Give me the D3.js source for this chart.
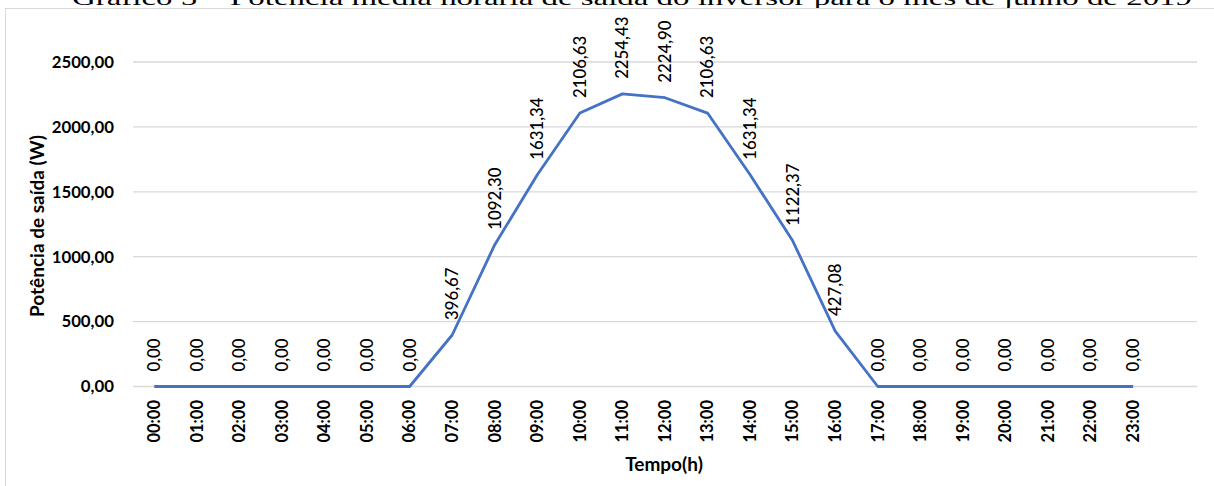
<!DOCTYPE html>
<html><head><meta charset="utf-8">
<script src="https://cdn.jsdelivr.net/npm/d3@7"></script>
<style>html,body{margin:0;padding:0;background:#fff;overflow:hidden}svg{display:block}</style>
</head><body>
<svg id="c" width="1214" height="486"></svg>
<script>
const hours = ["00:00","01:00","02:00","03:00","04:00","05:00","06:00","07:00","08:00","09:00","10:00","11:00","12:00","13:00","14:00","15:00","16:00","17:00","18:00","19:00","20:00","21:00","22:00","23:00"];
const power = [0,0,0,0,0,0,0,396.67,1092.30,1631.34,2106.63,2254.43,2224.90,2106.63,1631.34,1122.37,427.08,0,0,0,0,0,0,0];
const yTicks = [0,500,1000,1500,2000,2500];
const chartTitle = "Gráfico 5 – Potência média horária de saída do inversor para o mês de junho de 2019";
const xTitle = "Tempo(h)";
const yTitle = "Potência de saída (W)";

const loc = d3.formatLocale({decimal:",", thousands:".", grouping:[3], currency:["",""]});
const fmt = loc.format(".2f");
const FONT = "Lato, 'Open Sans', sans-serif";

const svg = d3.select("#c");
const L = 133, R = 1197, T = 62, B = 386.5;

// cut-off document caption above the chart frame
svg.append("text").attr("x", 72).attr("y", 5)
  .attr("font-family","'Liberation Serif','Times New Roman',serif").attr("font-size",22)
  .attr("textLength",1120).attr("lengthAdjust","spacingAndGlyphs")
  .attr("fill","#000").text(chartTitle);

// frame
svg.append("rect").attr("x",5.5).attr("y",8.5).attr("width",1230).attr("height",500)
  .attr("fill","#fff").attr("stroke","#d9d9d9").attr("stroke-width",1);

const x = d3.scaleBand().domain(d3.range(hours.length + 1)).range([L, R]);
const xc = i => x(i) + x.bandwidth()/2;
const y = d3.scaleLinear().domain([0, 2500]).range([B, T]);

// gridlines
svg.append("g").selectAll("line").data(yTicks).join("line")
  .attr("x1", L).attr("x2", R).attr("y1", d => y(d)).attr("y2", d => y(d))
  .attr("stroke","#d9d9d9").attr("stroke-width",1.3);

// y tick labels
svg.append("g").selectAll("text").data(yTicks).join("text")
  .attr("x", 114).attr("y", d => y(d)).attr("dy","0.35em")
  .attr("text-anchor","end").attr("font-family",FONT).attr("font-weight","bold")
  .attr("font-size",16.8).attr("fill","#000").text(d => fmt(d));

// x tick labels
svg.append("g").selectAll("text").data(hours).join("text")
  .attr("transform", (d,i) => `translate(${xc(i)},400) rotate(-90)`)
  .attr("dy","0.35em").attr("text-anchor","end")
  .attr("font-family",FONT).attr("font-weight","bold").attr("font-size",16.5)
  .attr("fill","#000").text(d => d);

// line
const line = d3.line().x((d,i) => xc(i)).y(d => y(d));
svg.append("path").datum(power).attr("d", line)
  .attr("fill","none").attr("stroke","#4472C4").attr("stroke-width",2.8)
  .attr("stroke-linejoin","round");

// data labels
svg.append("g").selectAll("text").data(power).join("text")
  .attr("transform", (d,i) => `translate(${xc(i)},${y(d) - 15}) rotate(-90)`)
  .attr("dy","0.35em").attr("text-anchor","start")
  .attr("font-family",FONT).attr("font-weight",500).attr("font-size",16.8).attr("fill","#000")
  .text(d => fmt(d));

// axis titles
svg.append("text").attr("x", 664).attr("y", 464).attr("dy","0.35em")
  .attr("text-anchor","middle").attr("font-family",FONT).attr("font-weight","bold")
  .attr("font-size",19).attr("fill","#000").text(xTitle);
svg.append("text").attr("transform","translate(37,226) rotate(-90)").attr("dy","0.35em")
  .attr("text-anchor","middle").attr("font-family",FONT).attr("font-weight","bold")
  .attr("font-size",19).attr("fill","#000").text(yTitle);
</script>
</body></html>
